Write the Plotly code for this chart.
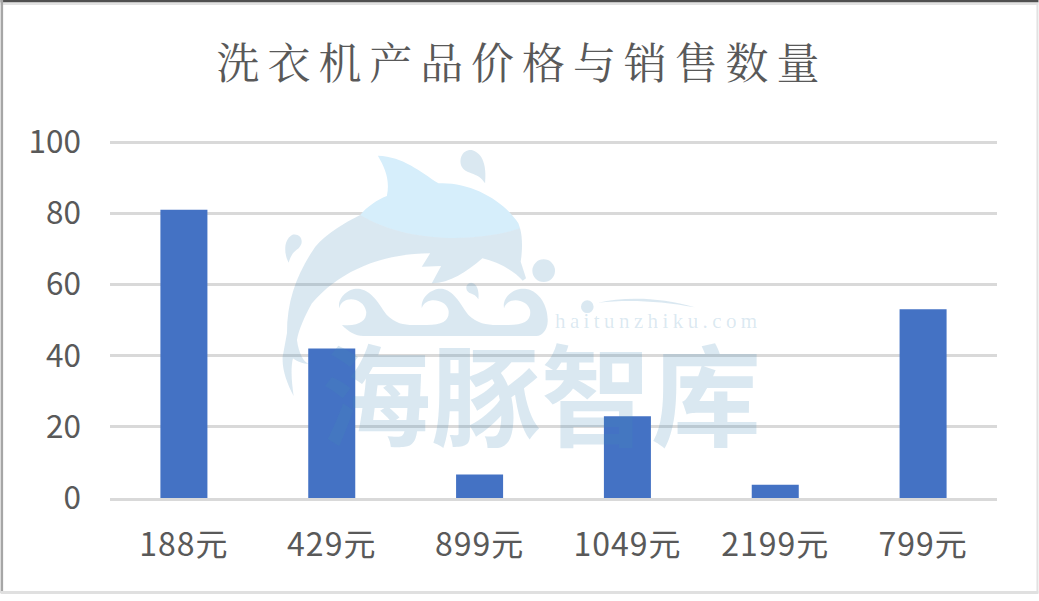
import plotly.graph_objects as go

categories = ["188元", "429元", "899元", "1049元", "2199元", "799元"]
sales = [81, 42, 6.6, 23, 3.7, 53]
y_ticks = [0, 20, 40, 60, 80, 100]
title = "洗衣机产品价格与销售数量"
watermark_cn = "海豚智库"
watermark_en = "haitunzhiku.com"

W, H = 1039, 601
L, R, T, B = 109.5, 41.5, 141, 103
GREY = "#595959"
LOGO = "rgba(70,140,185,0.2)"
LOGO_TOP = "#D6EEFB"


def px(x):
    return (x - L) / (W - L - R)


def py(y):
    return (H - B - y) / (H - T - B)


def logo_path(spec):
    """Convert a decorative logo outline, given in a 3x crop of the picture, to paper coordinates."""
    out = []
    for tok in spec.split():
        if "," in tok:
            a, b = tok.split(",")
            out.append(f"{px(270 + float(a) / 3):.5f},{py(140 + float(b) / 3):.5f}")
        else:
            out.append(tok)
    return " ".join(out)


logo_parts = [
    # dolphin, upper pale part
    (LOGO_TOP, "M 323,47 C 400,50 450,95 505,130 C 600,125 700,180 745,250 L 750,265 C 650,300 430,320 270,225 C 290,200 320,180 350,168 C 360,120 345,85 323,47 Z"),
    # dolphin, lower part
    (LOGO, "M 270,225 C 430,320 650,300 750,265 C 760,300 755,345 752,365 L 768,415 L 758,422 C 730,390 680,365 637,355 C 590,395 540,430 485,430 L 513,378 L 455,380 L 480,340 C 340,340 210,390 125,490 C 105,525 85,570 80,600 C 85,640 100,665 115,672 C 100,672 80,665 68,655 C 60,690 65,730 70,768 C 50,730 35,690 37,650 L 50,580 C 50,480 80,400 135,320 C 170,280 220,250 270,225 Z"),
    # drops
    (LOGO, "M 645,130 C 650,80 640,40 605,30 C 575,28 565,60 575,80 C 590,105 625,95 645,130 Z"),
    (LOGO, "M 55,368 C 40,340 40,300 65,285 C 90,278 105,305 85,325 C 70,335 62,345 55,368 Z"),
    (LOGO, "M 625,478 C 628,450 620,430 603,428 C 585,430 585,450 597,458 C 610,462 620,468 625,478 Z"),
    # waves
    (LOGO, "M 215,555 C 270,560 290,540 288,515 C 280,470 215,465 207,505 C 200,470 240,440 270,447 C 310,455 330,500 350,525 C 375,550 400,555 430,555 L 470,555 C 520,555 540,540 535,510 C 525,475 465,470 455,505 C 450,470 490,440 520,447 C 555,455 575,500 595,525 C 620,550 650,555 680,555 L 715,555 C 765,555 785,540 780,510 C 770,475 710,470 702,505 C 695,470 735,440 770,447 C 810,455 835,500 833,545 C 832,570 815,588 800,588 L 280,588 C 255,588 235,575 215,555 Z"),
    # swoosh
    (LOGO, "M 985,488 C 1060,470 1170,470 1275,502 C 1170,482 1070,478 985,488 Z"),
]
shapes = [dict(type="path", xref="paper", yref="paper", path=logo_path(p), fillcolor=c,
               line=dict(width=0), layer="above") for c, p in logo_parts]
for cx, cy, r in [(821, 392, 34), (952, 500, 19)]:
    shapes.append(dict(type="circle", xref="paper", yref="paper",
                       x0=px(270 + (cx - r) / 3), x1=px(270 + (cx + r) / 3),
                       y0=py(140 + (cy + r) / 3), y1=py(140 + (cy - r) / 3),
                       fillcolor=LOGO, line=dict(width=0), layer="above"))


def strip(x0, y0, x1, y1, color):
    return dict(type="rect", xref="paper", yref="paper", x0=px(x0), x1=px(x1), y0=py(y1), y1=py(y0),
                fillcolor=color, line=dict(width=0), layer="above")


shapes += [
    strip(0, 0, W, 2.5, "#505050"),
    strip(0, 2.5, W, 5, "#E2E2E2"),
    strip(0, 0, 2.5, 593, "#A6A6A6"),
    strip(1037, 3, W, 593, "#E2E2E2"),
    strip(0, 591, W, 594, "#E0E0E0"),
]

fig = go.Figure(go.Bar(x=categories, y=sales, marker=dict(color="#4472C4", line=dict(width=0)), width=0.318))
fig.update_layout(
    width=W, height=H,
    margin=dict(l=L, r=R, t=T, b=B, autoexpand=False),
    paper_bgcolor="white", plot_bgcolor="white",
    font=dict(family="Noto Sans CJK SC", color=GREY),
    title=dict(text=title, x=522 / W, xref="container", xanchor="center", y=1 - 64 / H, yanchor="middle",
               font=dict(size=43, color=GREY, family="Noto Serif CJK SC, Noto Sans CJK SC")),
    showlegend=False,
    xaxis=dict(tickfont=dict(size=32), ticks="", ticklabelstandoff=17, showline=True, linecolor="#D9D9D9",
               linewidth=3, showgrid=False),
    yaxis=dict(range=[0, 100.3], tickvals=y_ticks, tickfont=dict(size=31.5), ticks="", ticklabelstandoff=28,
               gridcolor="#D9D9D9", gridwidth=3, zeroline=False, showline=False),
    shapes=shapes,
    annotations=[
        dict(text=watermark_cn, xref="paper", yref="paper", x=px(541), y=py(390), xanchor="center", yanchor="middle",
             showarrow=False, font=dict(size=110, weight=700, color=LOGO, family="Noto Sans CJK SC")),
        dict(text=watermark_en, xref="paper", yref="paper", x=px(659), y=py(321), xanchor="center", yanchor="middle",
             showarrow=False, font=dict(size=21, color="rgba(70,140,185,0.2)", family="Liberation Serif")),
    ],
)
post = """
document.documentElement.style.overflow='hidden';
document.body.style.margin='0';
document.querySelectorAll('.gtitle').forEach(function(e){e.style.letterSpacing='7.9px';});
document.querySelectorAll('.xtick text').forEach(function(e){e.style.letterSpacing='1px';});
document.querySelectorAll('.annotation-text').forEach(function(e){
  if(e.textContent.indexOf('haitun')===0){e.style.letterSpacing='4.4px';}
});
"""
fig.write_html("out.html", post_script=post, config={"displayModeBar": False})
